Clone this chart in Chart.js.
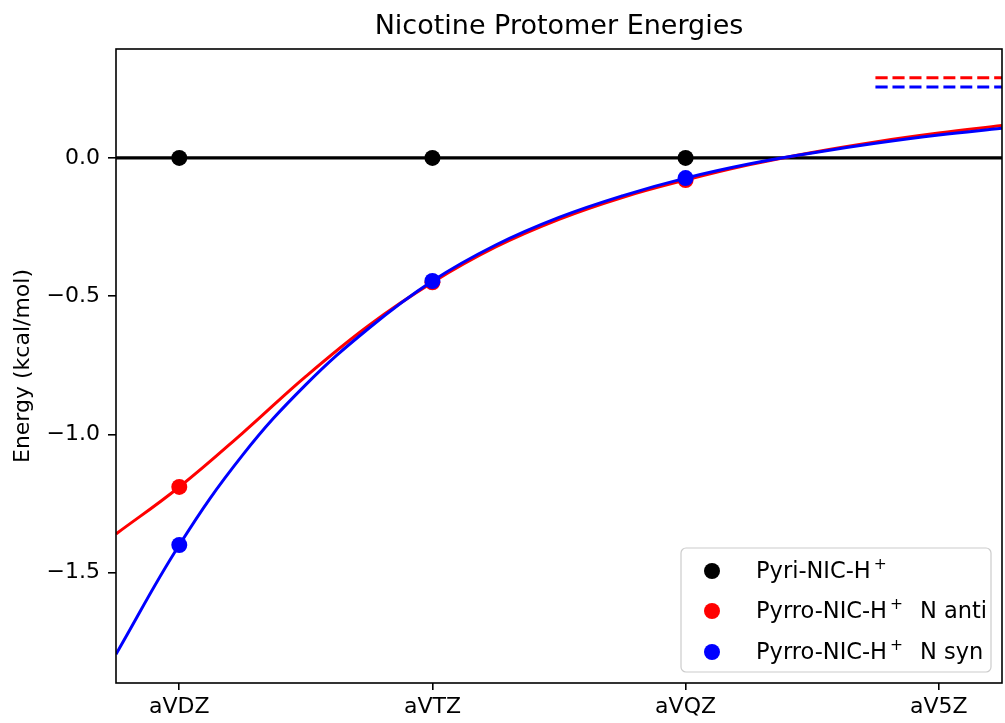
<!DOCTYPE html>
<html>
<head>
<meta charset="utf-8">
<script src="https://cdn.jsdelivr.net/npm/chart.js@4.4.0/dist/chart.umd.min.js"></script>
<style>
  html, body { margin: 0; padding: 0; overflow: hidden; background: #fff; }
  #wrap { width: 1010px; height: 723px; }
</style>
</head>
<body>
<div id="wrap"><canvas id="protomer-chart" width="1010" height="723"></canvas></div>
<script>
// 基组标签与位置
const basisLabels = ['aVDZ', 'aVTZ', 'aVQZ', 'aV5Z'];
const basisPos = [0, 1, 2, 3];
const yTicks = [-1.5, -1.0, -0.5, 0.0];

// 计算点 (aVDZ, aVTZ, aVQZ)
const pyriPoints = [0, 0, 0];
const antiPoints = [-1.19, -0.45, -0.08];
const synPoints = [-1.40, -0.445, -0.073];

// 拟合曲线
const pyriFitX = [-0.25, 3.25];
const pyriFit = [0, 0];
const fitX = [-0.25, 0, 0.25, 0.5, 0.75, 1, 1.25, 1.5, 1.75, 2, 2.25, 2.5, 2.75, 3, 3.25];
const antiFit = [-1.36, -1.19, -0.995, -0.79, -0.605, -0.45, -0.322, -0.222, -0.143, -0.08, -0.025, 0.02, 0.058, 0.09, 0.117];
const synFit = [-1.795, -1.40, -1.075, -0.82, -0.615, -0.445, -0.315, -0.215, -0.137, -0.073, -0.022, 0.018, 0.053, 0.083, 0.107];

// CBS 极限 (虚线)
const cbsX = [2.75, 3.25];
const antiCbs = [0.29, 0.29];
const synCbs = [0.257, 0.257];

// 图例
const legendNames = ['Pyri-NIC-H', 'Pyrro-NIC-H', 'Pyrro-NIC-H'];
const legendSuffix = ['', 'N anti', 'N syn'];
const legendColors = ['#000000', '#ff0000', '#0000ff'];

const FONT = 'DejaVu Sans';

function toXY(xs, ys) {
  return xs.map((x, i) => ({ x: x, y: ys[i] }));
}

function curve(xs, ys, color, order, width) {
  return {
    data: toXY(xs, ys),
    showLine: true,
    borderColor: color,
    borderWidth: width || 3,
    pointRadius: 0,
    tension: 0.4,
    order: order
  };
}

function dots(ys, color, order) {
  return {
    data: toXY(basisPos, ys),
    showLine: false,
    pointRadius: 8,
    pointBackgroundColor: color,
    pointBorderWidth: 0,
    order: order
  };
}

// 标题、坐标框、y 轴标题和图例
const decorPlugin = {
  id: 'decor',
  afterDraw(chart) {
    const ctx = chart.ctx;
    const a = chart.chartArea;
    ctx.save();

    // 坐标框
    ctx.strokeStyle = '#000';
    ctx.lineWidth = 1.6;
    ctx.strokeRect(a.left, a.top, a.right - a.left, a.bottom - a.top);

    // 标题
    ctx.fillStyle = '#000';
    ctx.font = '27px "' + FONT + '"';
    ctx.textAlign = 'center';
    ctx.textBaseline = 'middle';
    ctx.fillText('Nicotine Protomer Energies', (a.left + a.right) / 2, 27);

    // y 轴标题
    ctx.save();
    ctx.translate(23, (a.top + a.bottom) / 2);
    ctx.rotate(-Math.PI / 2);
    ctx.font = '22px "' + FONT + '"';
    ctx.fillText('Energy (kcal/mol)', 0, 0);
    ctx.restore();

    // 图例框
    const r = a.right - 11, b = a.bottom - 11;
    const l = r - 310, t = b - 124;
    ctx.beginPath();
    ctx.roundRect(l, t, r - l, b - t, 5);
    ctx.fillStyle = 'rgba(255,255,255,0.8)';
    ctx.fill();
    ctx.strokeStyle = '#cccccc';
    ctx.lineWidth = 1.2;
    ctx.stroke();

    const rows = [t + 23, t + 63, t + 104];
    ctx.textAlign = 'left';
    ctx.textBaseline = 'alphabetic';
    rows.forEach((y, i) => {
      ctx.beginPath();
      ctx.arc(l + 31, y, 8, 0, Math.PI * 2);
      ctx.fillStyle = legendColors[i];
      ctx.fill();

      ctx.fillStyle = '#000';
      let x = l + 75;
      ctx.font = '22.5px "' + FONT + '"';
      ctx.fillText(legendNames[i], x, y + 7);
      x += ctx.measureText(legendNames[i]).width + 3;
      ctx.font = '15.5px "' + FONT + '"';
      ctx.fillText('+', x, y - 2);
      x += ctx.measureText('+').width + 17;
      if (legendSuffix[i]) {
        ctx.font = '22.5px "' + FONT + '"';
        ctx.fillText(legendSuffix[i], x, y + 7);
      }
    });
    ctx.restore();
  }
};

const canvas = document.getElementById('protomer-chart');

new Chart(canvas, {
  type: 'scatter',
  data: {
    datasets: [
      curve(pyriFitX, pyriFit, '#000000', 8, 3.2),
      dots(pyriPoints, '#000000', 7),
      curve(fitX, antiFit, '#ff0000', 6),
      dots(antiPoints, '#ff0000', 5),
      curve(fitX, synFit, '#0000ff', 4),
      dots(synPoints, '#0000ff', 3),
      Object.assign(curve(cbsX, antiCbs, '#ff0000', 2), { borderDash: [12, 5] }),
      Object.assign(curve(cbsX, synCbs, '#0000ff', 1), { borderDash: [12, 5] })
    ]
  },
  options: {
    responsive: false,
    animation: false,
    layout: { padding: { top: 49, right: 2, left: 0, bottom: 0 } },
    plugins: {
      legend: { display: false },
      tooltip: { enabled: false },
      title: { display: false }
    },
    scales: {
      x: {
        type: 'linear',
        min: -0.25,
        max: 3.25,
        afterBuildTicks: (s) => { s.ticks = basisPos.map(v => ({ value: v })); },
        afterFit: (s) => { s.height = 40; },
        ticks: {
          callback: (v) => basisLabels[basisPos.indexOf(v)],
          color: '#000',
          font: { family: FONT, size: 22 },
          padding: 4,
          maxRotation: 0,
          autoSkip: false
        },
        grid: { drawOnChartArea: false, drawTicks: true, tickLength: 7, color: '#000', lineWidth: 1.6 },
        border: { display: false }
      },
      y: {
        type: 'linear',
        min: -1.899,
        max: 0.394,
        afterBuildTicks: (s) => { s.ticks = yTicks.map(v => ({ value: v })); },
        afterFit: (s) => { s.width = 116; },
        ticks: {
          callback: (v) => (v < 0 ? '\u2212' : '') + Math.abs(v).toFixed(1),
          color: '#000',
          font: { family: FONT, size: 22 },
          padding: 8
        },
        grid: { drawOnChartArea: false, drawTicks: true, tickLength: 8, color: '#000', lineWidth: 1.6 },
        border: { display: false }
      }
    }
  },
  plugins: [decorPlugin]
});
</script>
</body>
</html>
